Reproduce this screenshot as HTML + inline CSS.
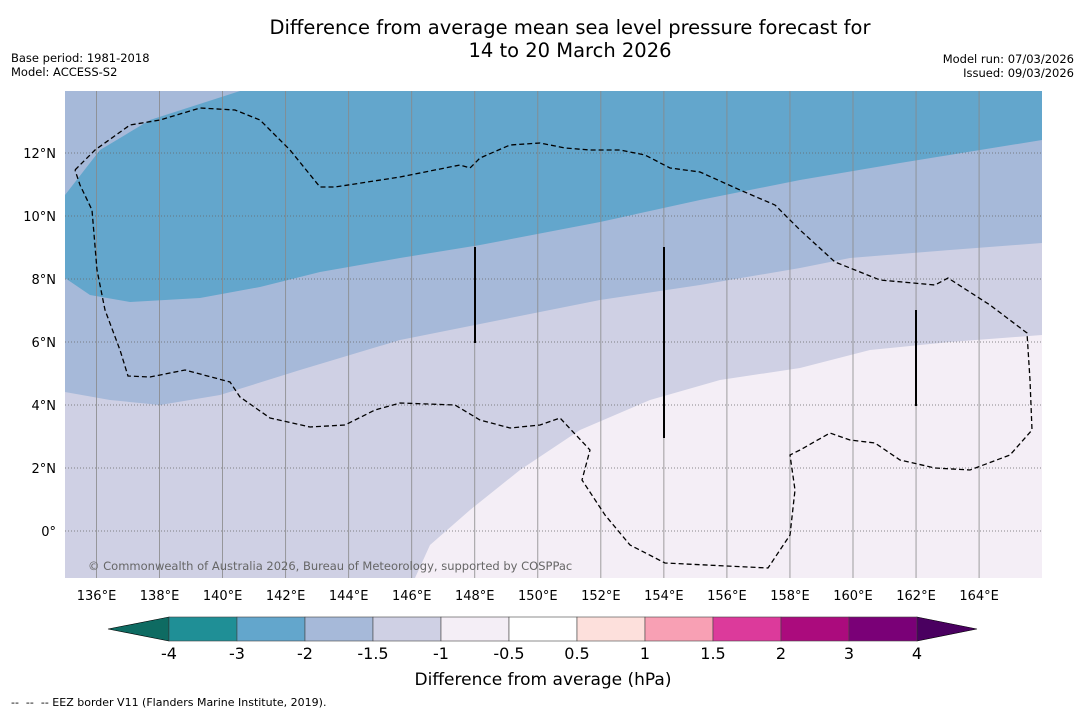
<!DOCTYPE html>
<html><head><meta charset="utf-8">
<style>
body{margin:0;background:#fff;width:1085px;height:713px;overflow:hidden;font-family:"Liberation Sans","DejaVu Sans",sans-serif;}
svg text{font-family:"DejaVu Sans","Liberation Sans",sans-serif;white-space:pre;}
</style></head><body>
<svg id="chart" width="1085" height="713" viewBox="0 0 1085 713">
<text x="570" y="34" font-size="19.5" text-anchor="middle">Difference from average mean sea level pressure forecast for</text>
<text x="570" y="57" font-size="19.5" text-anchor="middle">14 to 20 March 2026</text>
<text x="11" y="62" font-size="11.5">Base period: 1981-2018</text>
<text x="11" y="76" font-size="11.5">Model: ACCESS-S2</text>
<text x="1074" y="63" font-size="11.5" text-anchor="end">Model run: 07/03/2026</text>
<text x="1074" y="77" font-size="11.5" text-anchor="end">Issued: 09/03/2026</text>
<defs><clipPath id="mapclip"><rect x="65" y="91" width="977" height="487"/></clipPath></defs>
<g clip-path="url(#mapclip)">
<rect x="65" y="91" width="977" height="487" fill="#a6b9d9"/>
<polygon fill="#63a6cc" points="65,195 100,150 150,120 240,91 1042,91 1042,140 900,163 800,180 700,200 600,222 480,245 400,258 320,272 260,287 200,298 130,302 90,295 65,278"/>
<polygon fill="#cfd0e4" points="65,392 110,400 160,405 220,395 300,370 400,340 500,320 600,300 700,285 800,268 850,258 950,250 1042,243 1042,578 65,578"/>
<polygon fill="#f4eef6" points="415,578 430,545 470,510 520,470 580,430 650,400 720,380 800,368 870,350 950,342 1042,335 1042,578"/>
<g id="grid"></g>
<polyline fill="none" stroke="#000" stroke-width="1.3" stroke-dasharray="5,3" points="75,170 95,150 130,125 160,120 200,108 235,110 260,120 290,150 320,187 335,187 400,177 460,165 470,168 480,158 510,145 540,143 565,148 590,150 620,150 645,155 670,168 700,172 740,190 775,205 800,230 835,262 880,280 935,285 948,278 990,305 1027,333 1030,380 1032,430 1010,455 970,470 935,468 900,460 875,443 850,440 830,433 800,450 790,455 795,490 790,535 768,568 665,563 630,545 605,515 582,480 590,450 560,418 540,425 510,428 480,420 455,405 400,403 375,410 345,425 310,427 270,418 240,397 230,382 185,370 150,377 128,376 120,350 105,310 97,270 92,210 80,185 75,170"/>
<line x1="475" y1="247" x2="475" y2="343" stroke="#000" stroke-width="2"/>
<line x1="664" y1="247" x2="664" y2="438" stroke="#000" stroke-width="2"/>
<line x1="916" y1="310" x2="916" y2="406" stroke="#000" stroke-width="2"/>
<text x="88" y="570" font-size="11.5" fill="#666">© Commonwealth of Australia 2026, Bureau of Meteorology, supported by COSPPac</text>
</g>
<g id="axes"></g>
<g id="cbar"></g>
<text x="543" y="685" font-size="17" text-anchor="middle">Difference from average (hPa)</text>
<text x="11" y="706" font-size="11">--  --  -- EEZ border V11 (Flanders Marine Institute, 2019).</text>
</svg>
<script>
const lonTicks=[136,138,140,142,144,146,148,150,152,154,156,158,160,162,164];
const latTicks=[12,10,8,6,4,2,0];
const cbarLabels=["-4","-3","-2","-1.5","-1","-0.5","0.5","1","1.5","2","3","4"];
const cbarColors=["#1f8f96","#63a6cc","#a6b9d9","#cfd0e4","#f4eef6","#ffffff","#fde0dc","#f8a0b4","#dc3a9b","#ab0b7d","#7a0077"];
const NS="http://www.w3.org/2000/svg";
const xLon=l=>65+(l-135)*31.52;
const yLat=l=>531-l*31.5;
function mk(tag,attrs,parent){const e=document.createElementNS(NS,tag);for(const k in attrs)e.setAttribute(k,attrs[k]);parent.appendChild(e);return e;}
const grid=document.getElementById('grid'),axes=document.getElementById('axes'),cbar=document.getElementById('cbar');
lonTicks.forEach(l=>{
  const ln=mk('line',{x1:xLon(l),x2:xLon(l),y1:91,y2:578,stroke:'#888','stroke-width':0.8},grid);
  
  
  const t=mk('text',{x:xLon(l),y:600,'font-size':13,'text-anchor':'middle'},axes);
  t.textContent=l+'°E';
  
  
});
latTicks.forEach(l=>{
  const ln=mk('line',{x1:65,x2:1042,y1:yLat(l),y2:yLat(l),stroke:'#666','stroke-width':0.8,'stroke-dasharray':'1,2'},grid);
  
  
  const t=mk('text',{x:56,y:yLat(l)+5,'font-size':13,'text-anchor':'end'},axes);
  t.textContent=l===0?'0°':l+'°N';
  
  
});
const cx0=169,cw=68,cy=617,ch=24;
const lt=mk('polygon',{points:`${cx0},${cy} 108,${cy+ch/2} ${cx0},${cy+ch}`,fill:'#0e6b62',stroke:'#000','stroke-width':0.6},cbar);


const xe=cx0+cw*cbarColors.length;
const rt=mk('polygon',{points:`${xe},${cy} 977,${cy+ch/2} ${xe},${cy+ch}`,fill:'#4a0060',stroke:'#000','stroke-width':0.6},cbar);


cbarColors.forEach((c,i)=>{
  const r=mk('rect',{x:cx0+i*cw,y:cy,width:cw,height:ch,fill:c,stroke:'#444','stroke-width':0.6},cbar);
  
  
});
cbarLabels.forEach((s,i)=>{
  const t=mk('text',{x:cx0+i*cw,y:659,'font-size':16,'text-anchor':'middle'},cbar);
  t.textContent=s;
  
  
});
</script>
</body></html>
